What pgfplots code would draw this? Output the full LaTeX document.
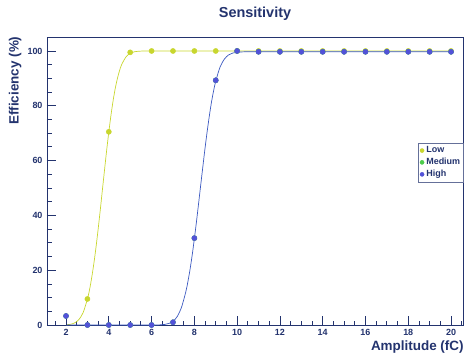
\documentclass[border=0pt]{standalone}
\usepackage{pgfplots}
\pgfplotsset{compat=1.18}
\usepackage{fontspec}
\setmainfont{Liberation Sans}
\definecolor{navy}{HTML}{23336E}
\definecolor{lowc}{HTML}{C8D62E}
\definecolor{medc}{HTML}{4CCC4C}
\definecolor{highd}{HTML}{5252D8}
\definecolor{highl}{HTML}{3A58C0}
\begin{document}
\begin{tikzpicture}
\begin{axis}[
  scale only axis,
  width=416bp, height=288bp,
  xmin=1.11, xmax=20.56, ymin=0, ymax=105.1,
  axis line style={navy, line width=0.9pt},
  every tick/.style={navy, line width=0.8pt},
  tick align=inside,
  xtick pos=bottom, ytick pos=left,
  xtick={2,4,...,20}, ytick={0,20,...,100},
  minor xtick={1.5,2,...,20.5},
  minor ytick={5,10,...,105},
  major tick length=9bp, minor tick length=4.5bp,
  tick label style={font=\fontsize{9}{10}\selectfont\bfseries, text=navy},
  /pgf/number format/assume math mode=true,
  xticklabel style={yshift=-1bp},
  yticklabel style={xshift=-1bp},
  title={\fontsize{14.5}{16}\selectfont\bfseries Sensitivity},
  title style={text=navy, at={(0.5,1)}, yshift=7bp},
  xlabel={\fontsize{13.5}{15}\selectfont\bfseries Amplitude (fC)},
  xlabel style={text=navy, at={(1.01,0)}, anchor=north east, yshift=-12bp},
  ylabel={\fontsize{13.5}{15}\selectfont\bfseries Efficiency (\%)},
  ylabel style={text=navy, at={(0,1)}, anchor=south east, xshift=4bp, yshift=22bp},
  legend style={at={(0.892,0.632)}, anchor=north west, draw=navy!70, line width=0.5pt,
    font=\fontsize{9}{10}\selectfont\bfseries, text=navy, inner sep=1.5pt, row sep=0pt,
    cells={anchor=west}},
  legend image code/.code={\fill[#1] (0.12cm,0cm) circle (2bp);},
  legend cell align=left,
]
% fit curves
\addplot[lowc, line width=0.7pt, smooth, forget plot] coordinates {
(2.0,0.08)(2.2,0.26)(2.4,0.76)(2.6,1.97)(2.8,4.55)(3.0,9.5)(3.1,12.9)(3.2,17.3)(3.3,22.4)(3.4,28.3)(3.5,34.9)(3.6,41.9)(3.7,49.3)(3.8,56.6)(3.9,63.8)(4.0,70.4)(4.1,76.5)(4.2,81.8)(4.3,86.3)(4.4,89.9)(4.5,92.8)(4.6,95.0)(4.8,97.8)(5.0,99.16)(5.2,99.71)(5.5,99.95)(6,100)(8,100)(12,100)(16,100)(20,100)};
\addplot[highl, line width=0.7pt, smooth, forget plot] coordinates {
(2,0)(4,0)(6.0,0)(6.4,0.06)(6.6,0.19)(6.8,0.54)(7.0,1.36)(7.2,3.1)(7.4,6.5)(7.6,12.1)(7.7,15.9)(7.8,20.4)(7.9,25.6)(8.0,31.5)(8.1,37.8)(8.2,44.5)(8.3,51.3)(8.4,58.0)(8.5,64.6)(8.6,70.7)(8.7,76.3)(8.8,81.3)(8.9,85.5)(9.0,89.0)(9.2,94.1)(9.4,97.0)(9.6,98.56)(9.8,99.26)(10.2,99.65)(11,99.7)(14,99.7)(17,99.7)(20,99.7)};
% data points
\addplot[only marks, mark=*, mark size=2.6bp, lowc, mark options={draw=lowc, fill=lowc}] coordinates {
(3,9.5)(4,70.5)(5,99.5)(6,100)(7,100)(8,100)(9,100)(10,100)(11,100)(12,100)(13,100)(14,100)(15,100)(16,100)(17,100)(18,100)(19,100)(20,100)};
\addlegendentry{Low}
\addplot[only marks, mark=*, mark size=2.6bp, medc, mark options={draw=medc, fill=medc}] coordinates {
(2,3.3)(3,0)(4,0)(5,0)(6,0)(7,1)(8,31.7)(9,89.3)(10,100)(11,99.7)(12,99.7)(13,99.7)(14,99.7)(15,99.7)(16,99.7)(17,99.7)(18,99.7)(19,99.7)(20,99.7)};
\addlegendentry{Medium}
\addplot[only marks, mark=*, mark size=2.6bp, highd, mark options={draw=highd, fill=highd},
  error bars/.cd, y dir=minus, y explicit, error bar style={navy, line width=0.8pt}, error mark=none] coordinates {
(2,3.3) -= (0,3.3)
(3,0)(4,0)(5,0)(6,0)(7,1)(8,31.7)(9,89.3)(10,100)(11,99.7)(12,99.7)(13,99.7)(14,99.7)(15,99.7)(16,99.7)(17,99.7)(18,99.7)(19,99.7)(20,99.7)};
\addlegendentry{High}
\end{axis}
\useasboundingbox (current axis.south west)++(-47bp,-29bp) rectangle ([shift={(8bp,37bp)}]current axis.north east);
\end{tikzpicture}
\end{document}
